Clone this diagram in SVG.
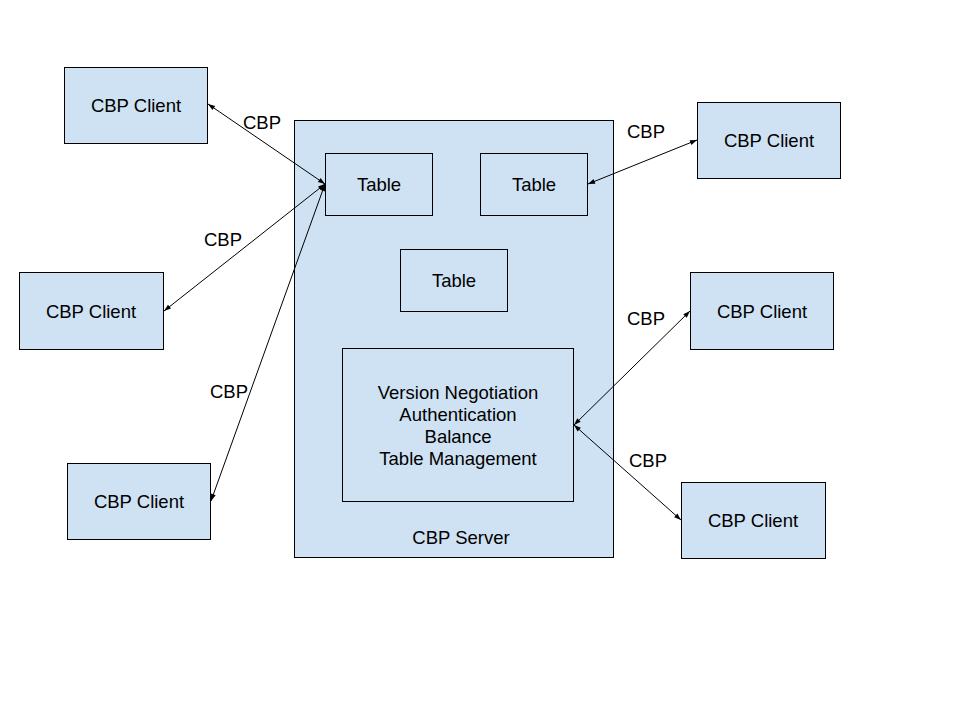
<svg xmlns="http://www.w3.org/2000/svg" width="960" height="720" viewBox="0 0 960 720">
<defs>
<marker id="ah" viewBox="0 0 10 10" refX="10" refY="5" markerWidth="9" markerHeight="7" orient="auto-start-reverse" markerUnits="userSpaceOnUse">
<path d="M0,1.5 L10,5 L0,8.5 z" fill="#000"/>
</marker>
<style>
.box{fill:#cfe2f3;stroke:#000;stroke-width:1}
.t{font-family:"Liberation Sans",Arial,sans-serif;font-size:18.5px;fill:#000;text-anchor:middle;dominant-baseline:central}
.c{stroke:#000;stroke-width:1;fill:none;marker-start:url(#ah);marker-end:url(#ah)}
</style>
</defs>
<rect width="960" height="720" fill="#fff"/>
<g id="server"><rect class="box" x="294.5" y="120.5" width="319" height="437"/><text class="t" x="461" y="537">CBP Server</text></g>
<g id="table1"><rect class="box" x="325.5" y="153.5" width="107" height="62"/><text class="t" x="379" y="184">Table</text></g>
<g id="table2"><rect class="box" x="480.5" y="153.5" width="107" height="62"/><text class="t" x="534" y="184">Table</text></g>
<g id="table3"><rect class="box" x="400.5" y="249.5" width="107" height="62"/><text class="t" x="454" y="280">Table</text></g>
<g id="core"><rect class="box" x="342.5" y="348.5" width="231" height="153"/>
<text class="t" x="458" y="392">Version Negotiation</text>
<text class="t" x="458" y="414">Authentication</text>
<text class="t" x="458" y="436">Balance</text>
<text class="t" x="458" y="458">Table Management</text></g>
<g id="client1"><rect class="box" x="64.5" y="67.5" width="143" height="76"/><text class="t" x="136" y="105">CBP Client</text></g>
<g id="client2"><rect class="box" x="19.5" y="272.5" width="144" height="77"/><text class="t" x="91" y="311">CBP Client</text></g>
<g id="client3"><rect class="box" x="67.5" y="463.5" width="143" height="76"/><text class="t" x="139" y="501">CBP Client</text></g>
<g id="client4"><rect class="box" x="697.5" y="102.5" width="143" height="76"/><text class="t" x="769" y="140">CBP Client</text></g>
<g id="client5"><rect class="box" x="690.5" y="272.5" width="143" height="77"/><text class="t" x="762" y="311">CBP Client</text></g>
<g id="client6"><rect class="box" x="681.5" y="482.5" width="144" height="76"/><text class="t" x="753" y="520">CBP Client</text></g>
<g id="connectors">
<line class="c" x1="208" y1="104" x2="325" y2="184"/>
<line class="c" x1="164" y1="311" x2="325" y2="184"/>
<line class="c" x1="211" y1="501" x2="325" y2="184"/>
<line class="c" x1="697" y1="140" x2="588" y2="184"/>
<line class="c" x1="690" y1="311" x2="574" y2="425"/>
<line class="c" x1="681" y1="520" x2="574" y2="425"/>
</g>
<g id="labels">
<text class="t" x="262" y="122">CBP</text>
<text class="t" x="223" y="239">CBP</text>
<text class="t" x="229" y="391">CBP</text>
<text class="t" x="646" y="131">CBP</text>
<text class="t" x="646" y="318">CBP</text>
<text class="t" x="648" y="460">CBP</text>
</g>
</svg>
